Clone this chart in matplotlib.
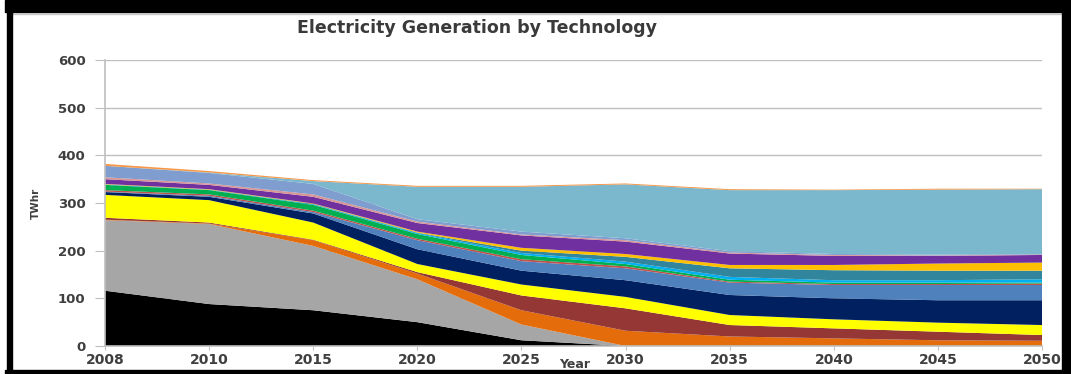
import matplotlib
matplotlib.use('Agg')
import matplotlib.pyplot as plt
import numpy as np
from matplotlib.patches import Rectangle

years = ['2008', '2010', '2015', '2020', '2025', '2030', '2035', '2040', '2045', '2050']

# layers from bottom to top (TWhr)
coal = [116, 88, 75, 50, 12, 0, 0, 0, 0, 0]
gas = [148, 168, 135, 90, 33, 0, 0, 0, 0, 0]
orange = [1, 1, 12, 12, 30, 32, 20, 16, 12, 11]
brick = [4, 2, 1, 3, 31, 47, 24, 21, 18, 12]
yellow = [48, 47, 36, 17, 23, 24, 21, 19, 19, 21]
navy = [6, 7, 19, 31, 29, 35, 42, 44, 47, 52]
steel = [1, 2, 3, 19, 20, 25, 26, 28, 32, 32]
red = [3, 3, 3, 3, 4, 4, 2, 2, 2, 3]
green = [11, 9, 12, 10, 9, 5, 4, 3, 3, 2]
cyan = [0.5, 0.5, 1, 2, 4, 5, 6, 5, 5, 7]
teal = [0.5, 0.5, 1, 1, 5, 10, 18, 21, 20, 18]
gold = [1, 1, 1, 2, 6, 6, 7, 11, 15, 17]
purple = [10, 9, 14, 18, 26, 26, 24, 19, 16, 16]
pink = [4, 3, 5, 3, 2, 3, 2, 2, 1, 1]
cornflower = [24, 22, 22, 5, 6, 4, 3, 2, 2, 1]
skyblue = [0, 1, 6, 68, 94, 113, 128, 134, 136, 136]
toporange = [4, 3, 2, 2, 2, 2, 2, 1, 2, 1]

layers = [coal, gas, orange, brick, yellow, navy, steel, red, green, cyan,
          teal, gold, purple, pink, cornflower, skyblue, toporange]
colors = ['#000000', '#A6A6A6', '#E46C0A', '#953735', '#FFFF00', '#002060',
          '#4F81BD', '#C0504D', '#00B050', '#00B0F0', '#31859C', '#FFC000',
          '#7030A0', '#D99694', '#7F9DCF', '#7BB8CE', '#F79646']

W, H = 1071, 374
fig = plt.figure(figsize=(W / 100, H / 100), dpi=100)
ax = fig.add_axes([105 / W, 1 - 346 / H, (1042 - 105) / W, (346 - 60) / H])

x = np.arange(len(years))
ax.stackplot(x, *layers, colors=colors, linewidth=0, zorder=2)

ax.set_xlim(0, len(years) - 1)
ax.set_ylim(0, 600)
ax.set_yticks(range(0, 601, 100))
ax.set_xticks(x)
ax.set_xticklabels(years)
ax.grid(axis='y', color='#BFBFBF', linewidth=1, zorder=0)
ax.set_axisbelow(True)
for s in ['top', 'right']:
    ax.spines[s].set_visible(False)
for s in ['left', 'bottom']:
    ax.spines[s].set_color('#BFBFBF')
    ax.spines[s].set_linewidth(1.2)
ax.tick_params(axis='y', length=7, color='#BFBFBF', labelsize=9.5,
               labelcolor='#3F3F3F', pad=7)
ax.tick_params(axis='x', length=3, color='#BFBFBF', labelsize=10,
               labelcolor='#3F3F3F', pad=2)
for lab in ax.get_xticklabels() + ax.get_yticklabels():
    lab.set_fontweight('bold')

fig.text(477 / W, 1 - 28 / H, 'Electricity Generation by Technology',
         ha='center', va='center', fontsize=12.5, fontweight='bold', color='#3A3A3A')
fig.text(36 / W, 1 - 203 / H, 'TWhr', rotation=90, ha='center', va='center',
         fontsize=7.5, fontweight='bold', color='#3F3F3F')
fig.text(575 / W, 1 - 365 / H, 'Year', ha='center', va='center',
         fontsize=9, fontweight='bold', color='#3F3F3F')

# black frame around the picture
def frame(x0, y0, x1, y1):
    fig.patches.append(Rectangle((x0 / W, 1 - y1 / H), (x1 - x0) / W, (y1 - y0) / H,
                                 transform=fig.transFigure, color='black', zorder=10))

frame(5, 0, W, 12)
frame(7, 0, 12, H)
frame(1062, 0, W, H)
frame(5, 370, W, H)
fig.add_artist(plt.Line2D([12 / W, 1062 / W], [1 - 13.5 / H] * 2,
                          transform=fig.transFigure, color='#C8C8C8', lw=1))

fig.savefig('out.png', dpi=100)
